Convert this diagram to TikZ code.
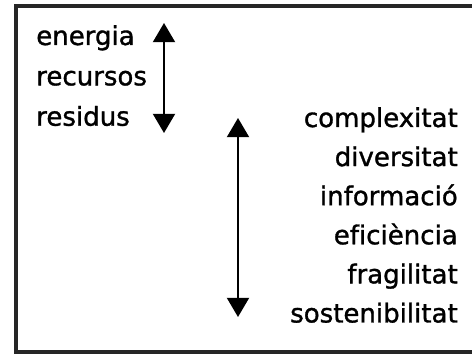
\documentclass[tikz,border=0pt]{standalone}
\usepackage{fontspec}
\setmainfont{DejaVu Sans}[FakeBold=1.2, Ligatures=NoCommon]
\usepackage{tikz}
\usetikzlibrary{positioning,arrows.meta}

\begin{document}
\begin{tikzpicture}[x=0.025cm, y=0.025cm,
    every node/.style={font=\fontsize{18.5}{22}\selectfont, inner sep=0pt,
      text height=14pt, text depth=4.5pt},
    leftword/.style={text width=3cm, align=left},
    rightword/.style={text width=5cm, align=right},
    updown/.style={line width=1.5pt, {Triangle[width=0.55cm,length=0.48cm]}-{Triangle[width=0.55cm,length=0.48cm]}}
  ]
  \useasboundingbox (0,0) rectangle (472,355);
  \draw[line width=2.2pt, black!85] (472,349) -- (16,349) -- (16,3) -- (472,3);

  \node[leftword, anchor=base west] (energia) at (36,310) {energia};
  \node[leftword, below=9.8pt of energia] (recursos) {recursos};
  \node[leftword, below=9.8pt of recursos] (residus) {residus};

  \node[rightword, anchor=base east] (complexitat) at (458,228) {complexitat};
  \node[rightword, below=8.9pt of complexitat] (diversitat) {diversitat};
  \node[rightword, below=8.9pt of diversitat] (informacio) {informació};
  \node[rightword, below=8.9pt of informacio] (eficiencia) {eficiència};
  \node[rightword, below=8.9pt of eficiencia] (fragilitat) {fragilitat};
  \node[rightword, below=8.9pt of fragilitat] (sostenibilitat) {sostenibilitat};

  \coordinate (fluxtop) at (164,332);
  \coordinate (fluxbot) at (164,222);
  \coordinate (orgtop) at (238,237);
  \coordinate (orgbot) at (238,38);
  \draw[updown] (fluxtop) -- (fluxbot);
  \draw[updown] (orgtop) -- (orgbot);
\end{tikzpicture}
\end{document}
